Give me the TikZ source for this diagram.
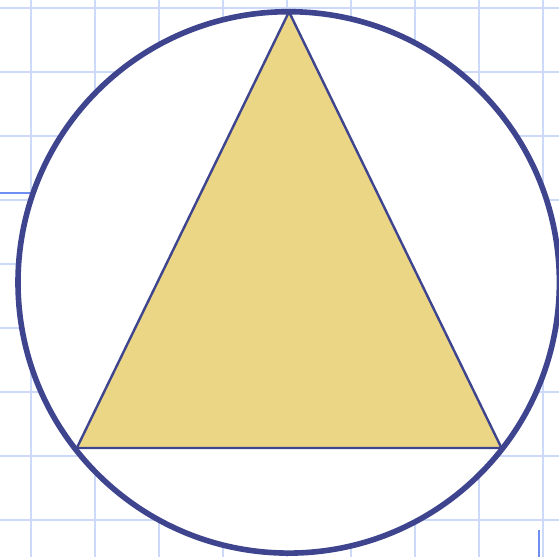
\documentclass[tikz,border=0pt]{standalone}
\usepackage{tikz}
\definecolor{GridBlue}{HTML}{CDD9F8}
\definecolor{MarkBlue}{HTML}{6F8EF2}
\definecolor{RingNavy}{HTML}{3E458E}
\definecolor{TriGold}{HTML}{EAD684}

\begin{document}
\begin{tikzpicture}[
  x=1pt, y=-1pt,
  gridline/.style={draw=GridBlue, line width=2pt},
  markline/.style={draw=MarkBlue, line width=2pt},
  ring/.style={draw=RingNavy, fill=white, line width=5.6pt},
  tri/.style={draw=RingNavy, fill=TriGold, line width=2.4pt, line join=miter}
]
\useasboundingbox (0,0) rectangle (559,557);
\clip (0,0) rectangle (559,557);
% background grid
\foreach \gx in {31,95,...,543} \draw[gridline] (\gx,0) -- (\gx,557);
\foreach \gy in {7.5,71.5,...,520} \draw[gridline] (0,\gy) -- (559,\gy);
\draw[markline] (0,192.7) -- (30,192.7);
\draw[markline] (539,530) -- (539,557);
% circle and inscribed triangle
\coordinate (centre) at (288.7,282.4);
\draw[ring] (centre) circle[radius=270.7];
\coordinate (apex) at (289,11.8);
\coordinate (left) at (76.8,448);
\coordinate (right) at (501.5,448);
\draw[tri] (apex) -- (left) -- (right) -- cycle;
\end{tikzpicture}
\end{document}
